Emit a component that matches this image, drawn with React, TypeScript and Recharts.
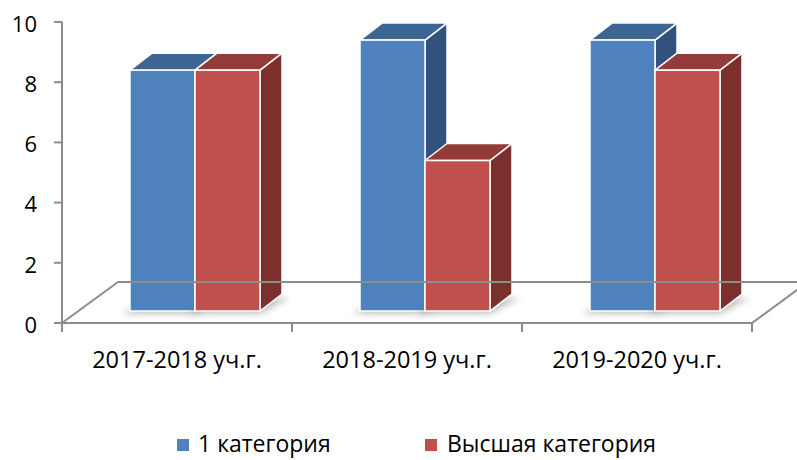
import React from 'react';
import { BarChart, Bar, XAxis, YAxis, ReferenceLine, Legend } from 'recharts';

const categories = ['2017-2018 уч.г.', '2018-2019 уч.г.', '2019-2020 уч.г.'];
const firstCategory = [8, 9, 9];
const highestCategory = [8, 5, 8];
const yTicks = [0, 2, 4, 6, 8, 10];
const seriesNames = ['1 категория', 'Высшая категория'];

const data = categories.map((c, i) => ({
  name: c,
  first: firstCategory[i],
  highest: highestCategory[i],
}));

const FONT = "'Open Sans', sans-serif";
const AXIS = '#8c8c8c';
const SHIFT_X = 18;
const SHIFT_Y = 12;
const DEPTH_X = 22;
const DEPTH_Y = -17;
const FLOOR_X = 56;
const FLOOR_Y = -41;

const BLUE = { front: '#4F81BD', top: '#3D6594', side: '#31537B' };
const RED = { front: '#C0504D', top: '#933B39', side: '#7C302E' };

const make3D = (c: { front: string; top: string; side: string }) => (props: any) => {
  const { x, y, width, height } = props;
  if (x == null || y == null || !height) return null;
  const fx = x + SHIFT_X;
  const fy = y - SHIFT_Y;
  const w = width;
  const fb = fy + height;
  const dx = DEPTH_X;
  const dy = DEPTH_Y;
  return (
    <g>
      <polygon
        points={`${fx - 8},${fb + 3} ${fx + w},${fb + 3} ${fx + w + dx + 8},${fb + dy + 4} ${fx + dx},${fb + dy + 4}`}
        fill="#7a7a7a"
        opacity={0.45}
        filter="url(#barShadow)"
      />
      <polygon
        points={`${fx + w},${fy} ${fx + w + dx},${fy + dy} ${fx + w + dx},${fb + dy} ${fx + w},${fb}`}
        fill={c.side}
        stroke="#fff"
        strokeWidth={1.5}
        strokeLinejoin="round"
      />
      <polygon
        points={`${fx},${fy} ${fx + dx},${fy + dy} ${fx + w + dx},${fy + dy} ${fx + w},${fy}`}
        fill={c.top}
        stroke="#fff"
        strokeWidth={1.5}
        strokeLinejoin="round"
      />
      <rect x={fx} y={fy} width={w} height={height} fill={c.front} stroke="#fff" strokeWidth={1.5} />
    </g>
  );
};

const Floor = (props: any) => {
  const { x1, y1, x2, y2 } = props;
  const n = categories.length;
  const edges = Array.from({ length: n + 1 }, (_, i) => x1 + ((x2 - x1) * i) / n);
  return (
    <g>
      <defs>
        <filter id="barShadow" x="-50%" y="-200%" width="200%" height="500%">
          <feGaussianBlur stdDeviation="3" />
        </filter>
      </defs>
      <line x1={x1} y1={y1} x2={x1 + FLOOR_X} y2={y1 + FLOOR_Y} stroke={AXIS} strokeWidth={2} />
      <line x1={x1 + FLOOR_X} y1={y1 + FLOOR_Y} x2={x2 + FLOOR_X} y2={y2 + FLOOR_Y} stroke={AXIS} strokeWidth={2} />
      <line x1={x2} y1={y2} x2={x2 + FLOOR_X} y2={y2 + FLOOR_Y} stroke={AXIS} strokeWidth={2} />
      <line x1={x1} y1={y1} x2={x2} y2={y2} stroke={AXIS} strokeWidth={2} />
      {edges.map((ex, i) => (
        <line key={i} x1={ex} y1={y1} x2={ex} y2={y1 + 9} stroke={AXIS} strokeWidth={2} />
      ))}
    </g>
  );
};

const colors = [BLUE.front, RED.front];

const renderLegend = () => (
  <div style={{ position: 'relative', height: 24, width: 797, fontFamily: FONT, fontSize: 23, color: '#000' }}>
    {seriesNames.map((n, i) => (
      <div
        key={n}
        style={{
          position: 'absolute',
          left: i === 0 ? 177 : 425,
          top: 0,
          width: i === 0 ? 220 : 300,
          height: 24,
          display: 'flex',
          alignItems: 'center',
          whiteSpace: 'nowrap',
        }}
      >
        <span style={{ display: 'inline-block', flex: '0 0 12px', width: 12, height: 12, background: colors[i], marginRight: i === 0 ? 9 : 10, marginTop: 3 }} />
        <span style={{ lineHeight: '24px', flex: '0 0 auto' }}>{n}</span>
      </div>
    ))}
  </div>
);

export default function App() {
  return (
    <div style={{ position: 'absolute', left: 0, top: 0, width: 797, height: 460, background: '#fff' }}>
      <BarChart
        width={797}
        height={460}
        data={data}
        margin={{ top: 22, right: 45, left: 0, bottom: 53 }}
        barGap={0}
        barSize={65}
      >
        <XAxis
          xAxisId="cat"
          dataKey="name"
          height={60}
          tickLine={false}
          tickSize={0}
          tickMargin={28}
          axisLine={false}
          tick={{ fill: '#000', fontSize: 23.5, fontFamily: FONT }}
          interval={0}
        />
        <YAxis
          domain={[0, 10]}
          ticks={yTicks}
          width={62}
          tickSize={8}
          tickMargin={17}
          axisLine={{ stroke: AXIS, strokeWidth: 2 }}
          tickLine={{ stroke: AXIS, strokeWidth: 2 }}
          tick={{ fill: '#000', fontSize: 22, fontFamily: FONT, dy: 2 }}
        />
        <ReferenceLine xAxisId="cat" y={0} shape={Floor} />
        <Bar xAxisId="cat" dataKey="first" name={seriesNames[0]} fill={BLUE.front} shape={make3D(BLUE)} isAnimationActive={false} />
        <Bar xAxisId="cat" dataKey="highest" name={seriesNames[1]} fill={RED.front} shape={make3D(RED)} isAnimationActive={false} />
        <Legend verticalAlign="bottom" content={renderLegend} wrapperStyle={{ top: 431, left: 0, width: 797, height: 24 }} />
      </BarChart>
    </div>
  );
}
